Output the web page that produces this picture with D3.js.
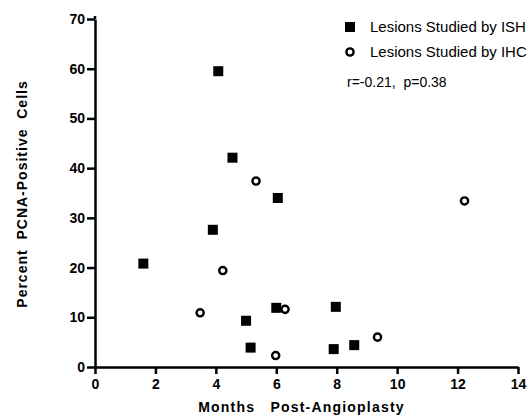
<!DOCTYPE html>
<html>
<head>
<meta charset="utf-8">
<script src="https://cdn.jsdelivr.net/npm/d3@7"></script>
<style>
  body { margin: 0; background: #fff; }
  svg text { font-family: "Liberation Sans", Arial, Helvetica, sans-serif; fill: #000; }
  .axis path, .axis line { stroke: #000; stroke-width: 2.5; }
  .axis text { font-size: 14px; font-weight: bold; }
</style>
</head>
<body>
<div id="chart"></div>
<script>
// Lesions studied by ISH (months, percent)
var ishMonths = [1.6, 4.08, 4.55, 3.9, 5.0, 5.15, 6.05, 6.0, 7.97, 7.9, 8.58];
var ishValues = [20.8, 59.5, 42.1, 27.6, 9.3, 3.9, 34.0, 11.9, 12.1, 3.6, 4.4];

// Lesions studied by IHC
var ihcMonths = [5.33, 4.23, 3.48, 6.29, 5.98, 9.35, 12.23];
var ihcValues = [37.4, 19.4, 10.9, 11.6, 2.3, 6.0, 33.4];

var xTicks = [0, 2, 4, 6, 8, 10, 12, 14];
var yTicks = [0, 10, 20, 30, 40, 50, 60, 70];

var legendLabels = ["Lesions Studied by ISH", "Lesions Studied by IHC"];
var statText = "r=-0.21,  p=0.38";

var svgWidth = 532;
var svgHeight = 420;

var margin = {
  top: 19,
  right: 14,
  bottom: 53,
  left: 95
};

var width = svgWidth - margin.left - margin.right;
var height = svgHeight - margin.top - margin.bottom;

var svg = d3.select("#chart")
  .append("svg")
  .attr("width", svgWidth)
  .attr("height", svgHeight);

var chartGroup = svg.append("g")
  .attr("transform", `translate(${margin.left}, ${margin.top})`);

var xScale = d3.scaleLinear()
  .domain([0, 14])
  .range([0, width]);

var yScale = d3.scaleLinear()
  .domain([0, 70])
  .range([height, 0]);

var bottomAxis = d3.axisBottom(xScale)
  .tickValues(xTicks)
  .tickSize(7)
  .tickPadding(5)
  .tickSizeOuter(0);

var leftAxis = d3.axisLeft(yScale)
  .tickValues(yTicks)
  .tickSize(8)
  .tickPadding(2)
  .tickSizeOuter(0);

chartGroup.append("g")
  .attr("class", "axis")
  .attr("transform", `translate(0, ${height})`)
  .call(bottomAxis);

chartGroup.append("g")
  .attr("class", "axis")
  .call(leftAxis);

// y axis runs a little past the 70 tick
chartGroup.append("line")
  .attr("x1", 0).attr("x2", 0)
  .attr("y1", yScale(70)).attr("y2", yScale(70) - 3)
  .attr("stroke", "#000").attr("stroke-width", 2.5);

// ISH squares
chartGroup.selectAll("rect.ish")
  .data(ishMonths)
  .enter()
  .append("rect")
  .attr("class", "ish")
  .attr("x", (d, i) => xScale(d) - 5)
  .attr("y", (d, i) => yScale(ishValues[i]) - 5)
  .attr("width", 10)
  .attr("height", 10)
  .attr("fill", "#000");

// IHC circles
chartGroup.selectAll("circle.ihc")
  .data(ihcMonths)
  .enter()
  .append("circle")
  .attr("class", "ihc")
  .attr("cx", d => xScale(d))
  .attr("cy", (d, i) => yScale(ihcValues[i]))
  .attr("r", 3.6)
  .attr("fill", "#fff")
  .attr("stroke", "#000")
  .attr("stroke-width", 2.4);

// Legend
var legend = svg.append("g")
  .attr("transform", "translate(350, 27)");

legend.append("rect")
  .attr("x", -5).attr("y", -5)
  .attr("width", 10).attr("height", 10)
  .attr("fill", "#000");

legend.append("circle")
  .attr("cx", 0).attr("cy", 25)
  .attr("r", 3.6)
  .attr("fill", "#fff")
  .attr("stroke", "#000")
  .attr("stroke-width", 2.4);

legend.selectAll("text.leg")
  .data(legendLabels)
  .enter()
  .append("text")
  .attr("class", "leg")
  .attr("x", 20)
  .attr("y", (d, i) => i * 25 + 5)
  .style("font-size", "15px")
  .text(d => d);

legend.append("text")
  .attr("x", -3)
  .attr("y", 60)
  .style("font-size", "14px")
  .style("white-space", "pre")
  .text(statText);

// Axis titles
svg.append("text")
  .attr("transform", `translate(${margin.left + width / 2 - 5}, 412)`)
  .attr("text-anchor", "middle")
  .style("font-size", "14px")
  .style("font-weight", "bold")
  .style("letter-spacing", "1.2px")
  .style("white-space", "pre")
  .text("Months   Post-Angioplasty");

svg.append("text")
  .attr("transform", "translate(27, 194) rotate(-90)")
  .attr("text-anchor", "middle")
  .style("font-size", "14px")
  .style("font-weight", "bold")
  .style("letter-spacing", "1px")
  .style("white-space", "pre")
  .text("Percent  PCNA-Positive  Cells");
</script>
</body>
</html>
